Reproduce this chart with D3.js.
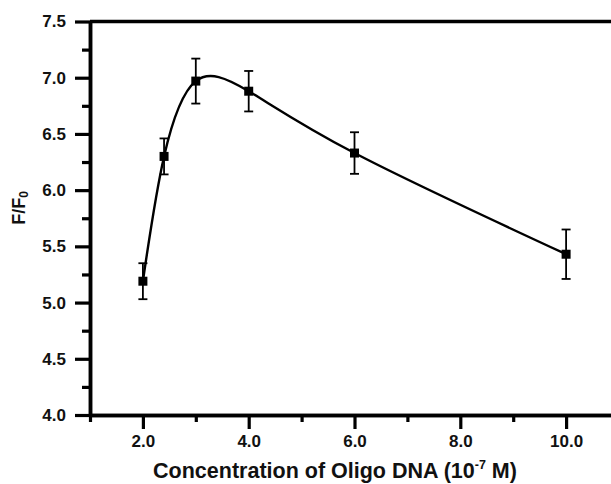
<!DOCTYPE html>
<html>
  <head>
    <script src="https://d3js.org/d3.v7.min.js"></script>
    <style>
      body { margin: 0; background: #fff; }
      text { font-family: Arial, "Liberation Sans", sans-serif; font-weight: bold; fill: #111; }
    </style>
  </head>
  <body>
    <div id="chart"></div>
    <script>
      // data
      const conc = [2.0, 2.4, 3.0, 4.0, 6.0, 10.0];
      const ratio = [5.19, 6.30, 6.97, 6.88, 6.33, 5.43];
      const err = [0.16, 0.16, 0.20, 0.18, 0.185, 0.22];
      const xMajor = [2, 4, 6, 8, 10];
      const xMinor = [1, 3, 5, 7, 9, 11];
      const yMajor = [4.0, 4.5, 5.0, 5.5, 6.0, 6.5, 7.0, 7.5];
      const yMinor = [4.25, 4.75, 5.25, 5.75, 6.25, 6.75, 7.25];

      const W = 611, H = 484;
      const svg = d3.select("#chart").append("svg")
        .attr("width", W).attr("height", H);

      const x = d3.scaleLinear().domain([1, 11]).range([90, 619]);
      const y = d3.scaleLinear().domain([4, 7.5]).range([415, 21.5]);

      const data = conc.map((c, i) => ({x: c, y: ratio[i], e: err[i]}));

      // frame: top + right line
      svg.append("path")
        .attr("d", `M${x(1)},${y(7.5)}H${x(11)}V${y(4)}`)
        .attr("fill", "none")
        .attr("stroke", "#000").attr("stroke-width", 3.5);

      // x axis
      const xa = svg.append("g").attr("transform", `translate(0,${y(4)})`);
      xa.call(d3.axisBottom(x).tickValues(xMajor).tickSize(14).tickSizeOuter(0).tickPadding(6)
        .tickFormat(d3.format(".1f")));
      xa.append("g").call(d3.axisBottom(x).tickValues(xMinor).tickSize(7).tickSizeOuter(0).tickFormat(""));
      xa.selectAll("path").attr("stroke-width", 3.5).attr("stroke", "#000");
      xa.selectAll("line").attr("stroke-width", 3.2).attr("stroke", "#000");
      xa.selectAll("text").attr("font-size", 17).attr("fill", "#111")
        .attr("font-family", "Arial, 'Liberation Sans', sans-serif").attr("font-weight", "bold");

      // y axis
      const ya = svg.append("g").attr("transform", `translate(${x(1)},0)`);
      ya.call(d3.axisLeft(y).tickValues(yMajor).tickSize(15).tickSizeOuter(0).tickPadding(9)
        .tickFormat(d3.format(".1f")));
      ya.append("g").call(d3.axisLeft(y).tickValues(yMinor).tickSize(8).tickSizeOuter(0).tickFormat(""));
      ya.selectAll("path").attr("stroke-width", 3.5).attr("stroke", "#000");
      ya.selectAll("line").attr("stroke-width", 3.2).attr("stroke", "#000");
      ya.selectAll("text").attr("font-size", 17).attr("fill", "#111")
        .attr("font-family", "Arial, 'Liberation Sans', sans-serif").attr("font-weight", "bold");

      // spline
      const line = d3.line().x(d => x(d.x)).y(d => y(d.y)).curve(d3.curveNatural);
      svg.append("path").datum(data)
        .attr("d", line).attr("fill", "none")
        .attr("stroke", "#000").attr("stroke-width", 2.4);

      // error bars
      const eb = svg.append("g").attr("stroke", "#000").attr("stroke-width", 1.8);
      eb.selectAll(".v").data(data).join("line")
        .attr("x1", d => x(d.x)).attr("x2", d => x(d.x))
        .attr("y1", d => y(d.y - d.e)).attr("y2", d => y(d.y + d.e));
      eb.selectAll(".t").data(data).join("line")
        .attr("x1", d => x(d.x) - 4.5).attr("x2", d => x(d.x) + 4.5)
        .attr("y1", d => y(d.y + d.e)).attr("y2", d => y(d.y + d.e));
      eb.selectAll(".b").data(data).join("line")
        .attr("x1", d => x(d.x) - 4.5).attr("x2", d => x(d.x) + 4.5)
        .attr("y1", d => y(d.y - d.e)).attr("y2", d => y(d.y - d.e));

      // square markers
      svg.selectAll("rect.pt").data(data).join("rect")
        .attr("x", d => x(d.x) - 4.5).attr("y", d => y(d.y) - 4.5)
        .attr("width", 9).attr("height", 9).attr("fill", "#000");

      // axis titles
      const xt = svg.append("text")
        .attr("x", 335).attr("y", 478)
        .attr("text-anchor", "middle").attr("font-size", 21.5);
      xt.append("tspan").text("Concentration of Oligo DNA (10");
      xt.append("tspan").text("-7").attr("font-size", 12.5).attr("dy", -9);
      xt.append("tspan").text(" M)").attr("dy", 9);

      const yt = svg.append("text")
        .attr("transform", "translate(25,208) rotate(-90)")
        .attr("text-anchor", "middle").attr("font-size", 18);
      yt.append("tspan").text("F/F");
      yt.append("tspan").text("0").attr("font-size", 12).attr("dy", 3);
    </script>
  </body>
</html>
